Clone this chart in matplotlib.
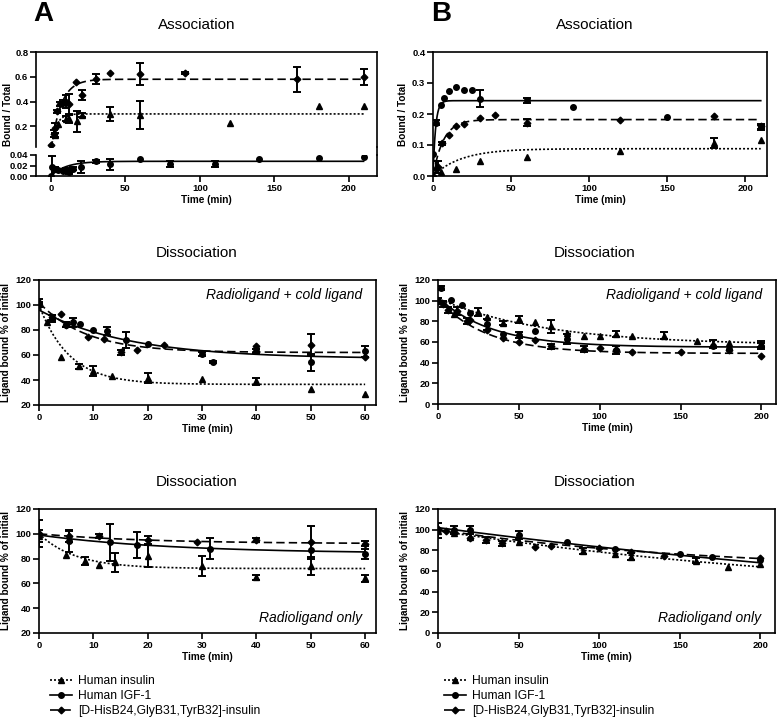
import numpy as np
import matplotlib
matplotlib.use("Agg")
import matplotlib.pyplot as plt
from matplotlib.lines import Line2D

plt.rcParams['font.family'] = ['Liberation Sans', 'DejaVu Sans']

W, H = 778, 720

# ---------------- data ----------------
# Panel A, association (bound / total)
a_as_ins_t = [3, 5, 10, 12, 17.5, 21, 40, 60, 120, 180, 210]
a_as_ins_y = [0.13, 0.22, 0.26, 0.26, 0.24, 0.29, 0.30, 0.29, 0.23, 0.36, 0.36]
a_as_ins_e = [0.02, 0, 0.02, 0.03, 0.085, 0.015, 0.055, 0.115, 0, 0, 0]
a_as_igf_t = [0, 1, 3, 5, 8, 10, 12, 15, 20, 30, 40, 60, 80, 110, 140, 180, 210]
a_as_igf_y = [0.0, 0.017, 0.013, 0.011, 0.009, 0.011, 0.008, 0.014, 0.017, 0.028, 0.022,
              0.032, 0.023, 0.023, 0.033, 0.035, 0.036]
a_as_igf_e = [0, 0.021, 0.005, 0.002, 0.002, 0.004, 0.005, 0.003, 0.012, 0.003, 0.011,
              0, 0.005, 0.005, 0, 0, 0]
a_as_ana_t = [0, 2, 3, 4, 6, 8, 10, 12, 17, 21, 30, 40, 60, 90, 165, 210]
a_as_ana_y = [0.05, 0.14, 0.19, 0.32, 0.38, 0.39, 0.40, 0.38, 0.56, 0.45, 0.58, 0.63,
              0.62, 0.63, 0.58, 0.60]
a_as_ana_e = [0, 0.03, 0.04, 0.015, 0.02, 0.02, 0.05, 0.08, 0, 0.04, 0.04, 0, 0.09,
              0.01, 0.1, 0.065]
# fit parameters (y0, plateau, k)
a_as_fit = {"ins": (0, 0.30, 0.30), "igf": (0, 0.028, 0.10), "ana": (0, 0.58, 0.15)}

# Panel B, association
b_as_ins_t = [0, 2, 5, 15, 30, 60, 120, 180, 210]
b_as_ins_y = [0.0, 0.03, 0.012, 0.022, 0.05, 0.062, 0.082, 0.105, 0.115]
b_as_ins_e = [0, 0.02, 0, 0, 0, 0, 0, 0.016, 0]
b_as_igf_t = [0, 2, 5, 7, 10, 15, 20, 25, 30, 60, 90, 150, 210]
b_as_igf_y = [0.07, 0.172, 0.228, 0.252, 0.275, 0.287, 0.277, 0.278, 0.25, 0.245,
              0.223, 0.19, 0.157]
b_as_igf_e = [0, 0.008, 0, 0, 0, 0, 0, 0, 0.027, 0.008, 0, 0, 0.008]
b_as_ana_t = [0, 3, 6, 10, 15, 20, 30, 40, 60, 120, 180, 210]
b_as_ana_y = [0.0, 0.03, 0.105, 0.133, 0.16, 0.168, 0.187, 0.198, 0.172, 0.182, 0.192, 0.16]
b_as_ana_e = [0, 0.02, 0.006, 0, 0, 0, 0, 0, 0.012, 0, 0, 0.008]
b_as_fit = {"ins": (0, 0.088, 0.055), "igf": (0, 0.243, 0.6), "ana": (0, 0.182, 0.15)}

# Panel A, dissociation radioligand + cold ligand
a_cd_ins_t = [0, 1.5, 4, 7.3, 10, 13.5, 20, 30, 40, 50, 60]
a_cd_ins_y = [103, 86, 58, 51, 47, 43, 42, 40.5, 39, 33, 28.5]
a_cd_ins_e = [2, 0, 0, 2, 4, 0, 4, 0, 3, 0, 0]
a_cd_igf_t = [0, 2.3, 5, 6.3, 7.5, 10, 12.5, 16, 20, 30, 32, 40, 50, 60]
a_cd_igf_y = [100, 89, 84, 86, 85, 80, 79, 72, 69, 61, 54.5, 63, 54, 63]
a_cd_igf_e = [2, 3, 2, 3.5, 0, 0, 3, 6.5, 0, 1.5, 1, 1.5, 6.5, 4.5]
a_cd_ana_t = [0, 2.3, 4, 5, 9, 12, 15, 18, 23, 40, 50, 60]
a_cd_ana_y = [100, 90, 93, 84, 74, 73, 62, 64, 68, 67, 68, 58]
a_cd_ana_e = [0, 2, 0, 2, 0, 0, 2, 0, 0, 0, 8.5, 0]
a_cd_fit = {"ins": (100, 36.5, 0.18), "igf": (96, 57, 0.06), "ana": (102, 62, 0.115)}

# Panel A, dissociation radioligand only
a_ro_ins_t = [0, 5, 8.5, 11, 14, 20, 30, 40, 50, 60]
a_ro_ins_y = [98, 83, 78, 75, 77, 82, 74, 65, 74, 64]
a_ro_ins_e = [5, 0, 3.5, 0, 7.5, 9, 8, 2, 7.5, 3]
a_ro_igf_t = [0, 5.5, 13, 18, 31.5, 50, 60]
a_ro_igf_y = [100, 94, 93, 91, 88, 87, 84]
a_ro_igf_e = [0, 9, 15, 10.5, 8.5, 0, 4]
a_ro_ana_t = [0, 5.5, 11, 20, 29, 40, 50, 60]
a_ro_ana_y = [100, 98, 98, 95, 93.5, 95, 93, 92]
a_ro_ana_e = [11, 4.5, 1.5, 3, 0, 2, 13.5, 2]
a_ro_fit = {"ins": (100, 72, 0.15), "igf": (99, 84, 0.04), "ana": (100, 92, 0.05)}

# Panel B, dissociation radioligand + cold ligand
b_cd_ins_t = [0, 10, 25, 30, 40, 50, 60, 70, 80, 90, 100, 110, 120, 140, 160, 170, 180, 200]
b_cd_ins_y = [100, 87, 89, 84, 78, 82, 79, 75, 69, 66, 66, 68, 66, 66, 60.5, 58, 59, 58]
b_cd_ins_e = [0, 0, 4, 0, 2, 3.5, 0, 6.5, 0, 0, 0, 3, 0, 3.5, 0, 3.5, 0, 2.5]
b_cd_igf_t = [0, 2, 8, 15, 20, 30, 40, 50, 60, 80, 110, 170, 180, 200]
b_cd_igf_y = [100, 112.6, 100.7, 96, 88, 77, 67.5, 67, 70.8, 63, 52, 56, 53, 56]
b_cd_igf_e = [3, 2, 0, 0, 0, 5, 0, 3, 0, 5, 4, 0, 0, 3]
b_cd_ana_t = [0, 3, 6, 12, 18, 20, 30, 40, 50, 60, 70, 90, 100, 110, 120, 150, 180, 200]
b_cd_ana_y = [100, 97, 91, 90, 80, 81, 72, 64, 60, 62, 56, 53, 54, 52, 50.5, 50.5, 52, 46]
b_cd_ana_e = [0, 3, 3, 4, 3, 0, 0, 0, 0, 0, 2.5, 3, 0, 0, 0, 0, 0, 0]
b_cd_fit = {"ins": (102, 57, 0.015), "igf": (103, 55, 0.03), "ana": (101, 49, 0.033)}

# Panel B, dissociation radioligand only
b_ro_ins_t = [0, 10, 20, 50, 90, 110, 120, 160, 180, 200]
b_ro_ins_y = [99, 97, 93, 88, 79, 76, 74, 70, 64, 67]
b_ro_ins_e = [7.5, 0, 0, 0, 3, 0, 3, 2.5, 0, 0]
b_ro_igf_t = [0, 10, 20, 50, 80, 110, 150, 170, 200]
b_ro_igf_y = [100, 100, 100, 95, 88, 81, 76, 74, 71]
b_ro_igf_e = [0, 4, 4, 4, 0, 0, 0, 0, 0]
b_ro_ana_t = [0, 5, 20, 30, 40, 60, 70, 100, 120, 140, 200]
b_ro_ana_y = [101, 99, 92, 90, 87, 83, 84, 82, 78, 75, 73]
b_ro_ana_e = [0, 0, 0, 2.5, 2.5, 0, 0, 0, 0, 0, 0]
b_ro_fit = {"ins": (99, 30, 0.00354), "igf": (102, 0, 0.00203), "ana": (100, 60, 0.006)}

labels = {"ins": "Human insulin", "igf": "Human IGF-1",
          "ana": "[D-HisB24,GlyB31,TyrB32]-insulin"}
markers = {"ins": "^", "igf": "o", "ana": "D"}
msizes = {"ins": 4.3, "igf": 4.0, "ana": 3.4}
lstyles = {"ins": (0, (1.2, 1.2)), "igf": "-", "ana": (0, (5, 2.5))}


def fig_rect(left, right, top, bottom):
    return [left / W, 1 - bottom / H, (right - left) / W, (bottom - top) / H]


def one_phase(t, y0, plateau, k):
    return plateau + (y0 - plateau) * np.exp(-k * t)


def style_axes(ax):
    for s in ax.spines.values():
        s.set_linewidth(1.2)
    ax.tick_params(direction="out", length=4, width=1.2, labelsize=6.8, pad=1.5)
    for lab in ax.get_xticklabels() + ax.get_yticklabels():
        lab.set_fontweight("bold")


def draw_series(ax, series, fit, tmax):
    for key, (t, y, e) in series.items():
        t = np.asarray(t, float)
        y = np.asarray(y, float)
        e = np.asarray(e, float)
        ax.plot(t, y, linestyle="none", marker=markers[key], ms=msizes[key],
                color="black", zorder=3)
        has = e > 0
        if has.any():
            ax.errorbar(t[has], y[has], yerr=e[has], fmt="none", ecolor="black",
                        elinewidth=1.4, capsize=2.8, capthick=1.4, zorder=3)
        tt = np.linspace(0, tmax, 400)
        ax.plot(tt, one_phase(tt, *fit[key]), color="black", lw=1.2,
                linestyle=lstyles[key], zorder=2)


fig = plt.figure(figsize=(W / 100, H / 100), dpi=100)

# ---- A association (broken y axis) ----
a_as_hi = {"ins": (a_as_ins_t, a_as_ins_y, a_as_ins_e),
           "ana": (a_as_ana_t, a_as_ana_y, a_as_ana_e)}
a_as_lo = {"igf": (a_as_igf_t, a_as_igf_y, a_as_igf_e)}
ax_top = fig.add_axes(fig_rect(36, 377, 52, 147))
ax_bot = fig.add_axes(fig_rect(36, 377, 155, 176))
draw_series(ax_top, a_as_hi, a_as_fit, 210)
draw_series(ax_bot, a_as_lo, a_as_fit, 210)
for ax in (ax_top, ax_bot):
    ax.set_xlim(-10, 219)
ax_top.set_ylim(0.033, 0.8)
ax_top.set_yticks([0.2, 0.4, 0.6, 0.8])
ax_top.set_yticklabels(["0.2", "0.4", "0.6", "0.8"])
ax_top.spines["bottom"].set_visible(False)
ax_top.tick_params(axis="x", bottom=False, labelbottom=False)
ax_bot.set_ylim(0, 0.04)
ax_bot.set_yticks([0, 0.02, 0.04])
ax_bot.set_yticklabels(["0.00", "0.02", "0.04"])
ax_bot.spines["top"].set_visible(False)
ax_bot.set_xticks([0, 50, 100, 150, 200])
ax_bot.set_xlabel("Time (min)", fontsize=7.2, fontweight="bold", labelpad=2)
style_axes(ax_top)
style_axes(ax_bot)
fig.add_artist(Line2D([377 / W, 377 / W], [1 - 147 / H, 1 - 155 / H], color="black",
                      lw=1.2, transform=fig.transFigure))
fig.text(8 / W, 1 - 114 / H, "Bound / Total", rotation=90, fontsize=7.2,
         fontweight="bold", ha="center", va="center")

# ---- B association ----
b_as = {"ins": (b_as_ins_t, b_as_ins_y, b_as_ins_e),
        "igf": (b_as_igf_t, b_as_igf_y, b_as_igf_e),
        "ana": (b_as_ana_t, b_as_ana_y, b_as_ana_e)}
ax = fig.add_axes(fig_rect(433, 767, 52, 176))
draw_series(ax, b_as, b_as_fit, 210)
ax.set_xlim(0, 214)
ax.set_ylim(0, 0.4)
ax.set_yticks([0, 0.1, 0.2, 0.3, 0.4])
ax.set_yticklabels(["0.0", "0.1", "0.2", "0.3", "0.4"])
ax.set_xticks([0, 50, 100, 150, 200])
ax.set_xlabel("Time (min)", fontsize=7.2, fontweight="bold", labelpad=2)
ax.set_ylabel("Bound / Total", fontsize=7.2, fontweight="bold", labelpad=3)
style_axes(ax)

# ---- dissociation panels ----
diss_panels = [
    ({"ins": (a_cd_ins_t, a_cd_ins_y, a_cd_ins_e), "igf": (a_cd_igf_t, a_cd_igf_y, a_cd_igf_e),
      "ana": (a_cd_ana_t, a_cd_ana_y, a_cd_ana_e)}, a_cd_fit,
     (39, 376, 280, 405), 60, 62, (20, 120), "Radioligand + cold ligand", "top"),
    ({"ins": (b_cd_ins_t, b_cd_ins_y, b_cd_ins_e), "igf": (b_cd_igf_t, b_cd_igf_y, b_cd_igf_e),
      "ana": (b_cd_ana_t, b_cd_ana_y, b_cd_ana_e)}, b_cd_fit,
     (438, 776, 280, 404), 200, 209, (0, 120), "Radioligand + cold ligand", "top"),
    ({"ins": (a_ro_ins_t, a_ro_ins_y, a_ro_ins_e), "igf": (a_ro_igf_t, a_ro_igf_y, a_ro_igf_e),
      "ana": (a_ro_ana_t, a_ro_ana_y, a_ro_ana_e)}, a_ro_fit,
     (39, 376, 509, 633), 60, 62, (20, 120), "Radioligand only", "bottom"),
    ({"ins": (b_ro_ins_t, b_ro_ins_y, b_ro_ins_e), "igf": (b_ro_igf_t, b_ro_igf_y, b_ro_igf_e),
      "ana": (b_ro_ana_t, b_ro_ana_y, b_ro_ana_e)}, b_ro_fit,
     (438, 775, 509, 633), 200, 209, (0, 120), "Radioligand only", "bottom"),
]
for series, fit, rect, tmax, xmax, ylim, note, where in diss_panels:
    ax = fig.add_axes(fig_rect(*rect))
    draw_series(ax, series, fit, tmax)
    ax.set_xlim(0, xmax)
    ax.set_ylim(*ylim)
    ax.set_yticks(np.arange(ylim[0], 121, 20))
    ax.set_xticks([0, 10, 20, 30, 40, 50, 60] if tmax == 60 else [0, 50, 100, 150, 200])
    ax.set_xlabel("Time (min)", fontsize=7.2, fontweight="bold", labelpad=2)
    ax.set_ylabel("Ligand bound % of initial", fontsize=7.2, fontweight="bold", labelpad=3)
    ypos = 0.88 if where == "top" else 0.12
    ax.text(0.96, ypos, note, transform=ax.transAxes, fontsize=10, style="italic",
            ha="right", va="center")
    style_axes(ax)

# ---- titles and panel letters ----
for xc in (197, 595):
    fig.text(xc / W, 1 - 25 / H, "Association", fontsize=11, ha="center", va="center")
    fig.text(xc / W, 1 - 253 / H, "Dissociation", fontsize=11, ha="center", va="center")
    fig.text(xc / W, 1 - 482 / H, "Dissociation", fontsize=11, ha="center", va="center")
fig.text(33 / W, 1 - 1 / H, "A", fontsize=20, fontweight="bold", ha="left", va="top")
fig.text(431 / W, 1 - 1 / H, "B", fontsize=20, fontweight="bold", ha="left", va="top")

# ---- legends ----
handles = [Line2D([], [], color="black", lw=1.2, linestyle=lstyles[k], marker=markers[k],
                  ms=msizes[k]) for k in ("ins", "igf", "ana")]
names = [labels[k] for k in ("ins", "igf", "ana")]
for x0 in (50, 444):
    fig.legend(handles, names, loc="upper left", bbox_to_anchor=(x0 / W, 1 - 675 / H),
               frameon=False, fontsize=8.7, handlelength=1.8, handletextpad=0.5,
               labelspacing=0.25, borderpad=0, borderaxespad=0)

fig.savefig("out.png", dpi=100)
